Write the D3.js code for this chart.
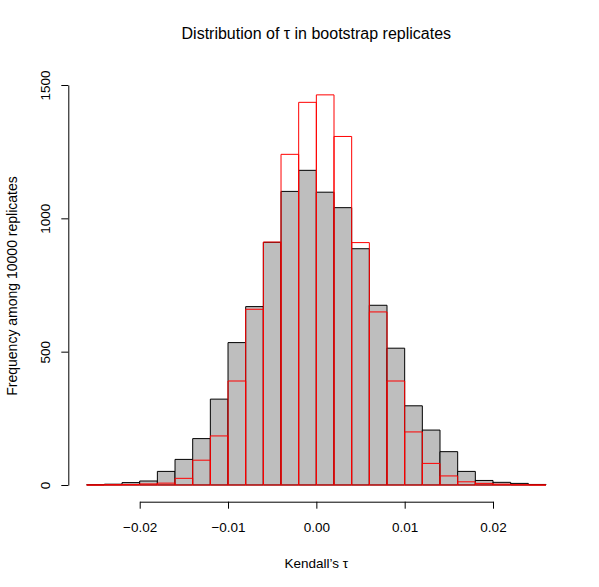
<!DOCTYPE html>
<html>
<head>
<meta charset="utf-8">
<script src="https://cdn.jsdelivr.net/npm/d3@7"></script>
<style>
  body { margin: 0; background: #fff; }
  svg { display: block; }
  text { font-family: "Liberation Sans", Arial, Helvetica, sans-serif; fill: #000; }
</style>
</head>
<body>
<svg id="chart" width="599" height="587"></svg>
<script>
// bin edges of the histogram
const breaks = [-0.026, -0.024, -0.022, -0.020, -0.018, -0.016, -0.014, -0.012, -0.010,
  -0.008, -0.006, -0.004, -0.002, 0.000, 0.002, 0.004, 0.006, 0.008, 0.010,
  0.012, 0.014, 0.016, 0.018, 0.020, 0.022, 0.024, 0.026];

// grey histogram (black border)
const greyCounts = [1, 3, 9, 15, 51, 96, 174, 322, 534, 669, 910, 1101, 1180,
  1098, 1040, 886, 674, 513, 297, 206, 125, 51, 17, 10, 6, 2];

// red outline histogram
const redCounts = [0, 1, 2, 4, 7, 25, 93, 184, 390, 659, 911, 1240, 1435,
  1463, 1307, 909, 649, 390, 199, 81, 34, 12, 6, 3, 1, 0];

const xTicks = [-0.02, -0.01, 0, 0.01, 0.02];
const yTicks = [0, 500, 1000, 1500];

const svg = d3.select('#chart');

const x = d3.scaleLinear().domain([-0.026, 0.026]).range([86.7, 546]);
const y = d3.scaleLinear().domain([0, 1500]).range([485, 85]);

const bins = counts => counts.map((n, i) => ({x0: breaks[i], x1: breaks[i + 1], n}));

const barPath = d => `M${x(d.x0)},${y(0)}V${y(d.n)}H${x(d.x1)}V${y(0)}Z`;

svg.append('g')
  .selectAll('path')
  .data(bins(greyCounts))
  .join('path')
  .attr('d', barPath)
  .attr('fill', '#bebebe')
  .attr('stroke', '#000')
  .attr('stroke-width', 1);

svg.append('g')
  .selectAll('path')
  .data(bins(redCounts))
  .join('path')
  .attr('d', barPath)
  .attr('fill', 'none')
  .attr('stroke', '#ff0000')
  .attr('stroke-width', 1);

// x axis: line only spans the ticks, like R
const xa = x.copy().domain([-0.02, 0.02]).range([x(-0.02), x(0.02)]);
const gx = svg.append('g')
  .attr('transform', 'translate(0,501.7)')
  .call(d3.axisBottom(xa).tickValues(xTicks).tickSize(7).tickSizeOuter(0).tickFormat(d3.format('.2f')));
gx.selectAll('text')
  .attr('y', 30).attr('dy', 0)
  .style('font-size', '13.5px');

const gy = svg.append('g')
  .attr('transform', 'translate(68.3,0)')
  .call(d3.axisLeft(y).tickValues(yTicks).tickSize(7).tickSizeOuter(0).tickFormat(d3.format('d')));
gy.selectAll('text')
  .attr('transform', 'rotate(-90)')
  .attr('x', 0).attr('y', -18).attr('dy', 0)
  .style('text-anchor', 'middle')
  .style('font-size', '13.5px');

svg.selectAll('.domain, .tick line').attr('stroke', '#000');

svg.append('text')
  .attr('x', 316.3).attr('y', 39)
  .attr('text-anchor', 'middle')
  .style('font-size', '16px')
  .text('Distribution of τ in bootstrap replicates');

svg.append('text')
  .attr('x', 316.3).attr('y', 568)
  .attr('text-anchor', 'middle')
  .style('font-size', '13.5px')
  .text('Kendall’s τ');

svg.append('text')
  .attr('transform', 'translate(17,286) rotate(-90)')
  .attr('text-anchor', 'middle')
  .style('font-size', '14px')
  .text('Frequency among 10000 replicates');
</script>
</body>
</html>
